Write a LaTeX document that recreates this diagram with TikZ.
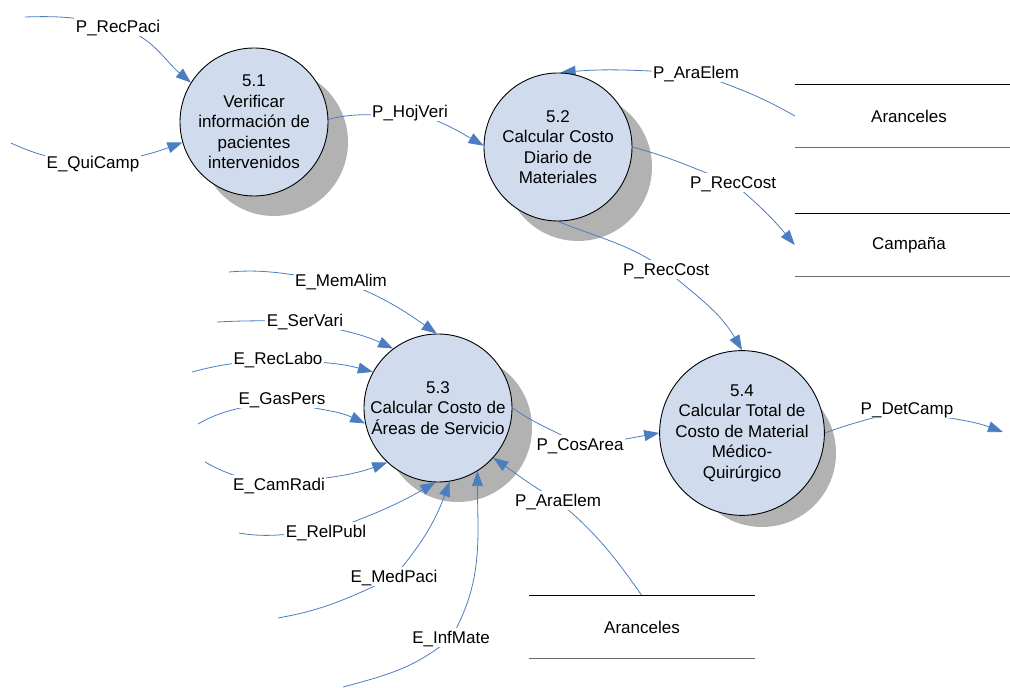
\documentclass[tikz,border=0pt]{standalone}
\usepackage{fontspec}
\setmainfont{Liberation Sans}
\usetikzlibrary{arrows.meta}
\definecolor{flowblue}{RGB}{74,126,193}
\definecolor{procfill}{RGB}{208,220,238}
\definecolor{shadowgray}{RGB}{178,178,178}
\definecolor{storegray}{RGB}{105,105,105}
\pgfdeclarelayer{shadowlayer}
\pgfdeclarelayer{edgelayer}
\pgfsetlayers{shadowlayer,edgelayer,main}
\begin{document}
\begin{tikzpicture}[x=1pt,y=1pt,
  proc/.style={circle,draw=black,line width=0.9pt,fill=procfill,minimum size=148pt,inner sep=0pt,align=center,font=\fontsize{17}{20.5}\selectfont},
  lab/.style={fill=white,inner sep=1.5pt,text height=14pt,text depth=2pt,font=\fontsize{17}{20.5}\selectfont},
  flow/.style={color=flowblue,line width=0.8pt,-{Triangle[length=15pt,width=11pt]}},
  store/.style={minimum width=228pt,minimum height=62pt,inner sep=0pt,font=\fontsize{17}{20.5}\selectfont},
  storetop/.style={draw=black,line width=0.9pt},
  storebot/.style={draw=storegray,line width=0.9pt}]
\useasboundingbox (0,0) rectangle (1010,688);

% processes
\node[proc] (c51) at (254,566) {5.1\\Verificar\\información de\\pacientes\\intervenidos};
\node[proc] (c52) at (558,541) {5.2\\Calcular Costo\\Diario de\\Materiales};
\node[proc] (c53) at (438,280) {5.3\\Calcular Costo de\\Áreas de Servicio};
\node[proc] (c54) at (742,255) {5.4\\Calcular Total de\\Costo de Material\\Médico-\\Quirúrgico};

% data stores
\node[store] (st1) at (909,572) {Aranceles};
\node[store] (st2) at (909,443) {Campaña};
\node[store,minimum width=225pt] (st3) at (642,61) {Aranceles};
\foreach \s in {st1,st2,st3}{
  \draw[storetop] (\s.north west) -- (\s.north east);
  \draw[storebot] (\s.south west) -- (\s.south east);
}

% free ends
\coordinate (s1) at (25,671);
\coordinate (s2) at (11,545);
\coordinate (s7) at (229,416);
\coordinate (s8) at (217,366);
\coordinate (s9) at (192,316);
\coordinate (s10) at (198,264);
\coordinate (s11) at (205,226);
\coordinate (s12) at (239,155);
\coordinate (s13) at (278,70);
\coordinate (s14) at (343,1);
\coordinate (e17) at (1003,256);

% labels
\node[lab] (l1) at (118,661) {P\_RecPaci};
\node[lab] (l2) at (93,525) {E\_QuiCamp};
\node[lab] (l3) at (410,576) {P\_HojVeri};
\node[lab] (l4) at (696,615) {P\_AraElem};
\node[lab] (l5) at (733,505) {P\_RecCost};
\node[lab] (l6) at (666,418) {P\_RecCost};
\node[lab] (l7) at (341,407) {E\_MemAlim};
\node[lab] (l8) at (305,367) {E\_SerVari};
\node[lab] (l9) at (278,329) {E\_RecLabo};
\node[lab] (l10) at (282,289) {E\_GasPers};
\node[lab] (l11) at (279,203) {E\_CamRadi};
\node[lab] (l12) at (326,156) {E\_RelPubl};
\node[lab] (l13) at (394,111) {E\_MedPaci};
\node[lab] (l14) at (451,50) {E\_InfMate};
\node[lab] (l15) at (558,187) {P\_AraElem};
\node[lab] (l16) at (580,243) {P\_CosArea};
\node[lab] (l17) at (907,279) {P\_DetCamp};

% shadows
\begin{pgfonlayer}{shadowlayer}
\foreach \c in {c51,c52,c53,c54}
  \fill[shadowgray] ([shift={(20,-20)}]\c.center) circle[radius=74];
\end{pgfonlayer}

% flows
\begin{pgfonlayer}{edgelayer}
\draw[flow] (s1) to[out=2,in=165] (l1.center) to[out=-15,in=140] (c51.148);
\draw[flow] (s2) to[out=-25,in=175] (l2.center) to[out=5,in=200] (c51.196);
\draw[flow] (c51.2) to[out=15,in=190] (l3.center) to[out=-15,in=150] (c52.179);
\draw[flow] (st1.west) to[out=150,in=-20] (l4.center) to[out=178,in=5] (c52.88);
\draw[flow] (c52.0) to[out=-15,in=160] (l5.center) to[out=-40,in=130] (st2.west);
\draw[flow] (c52.270) to[out=-22,in=145] (l6.center) to[out=-40,in=120] (c54.90);
\draw[flow] (s7) to[out=5,in=175] (l7.center) to[out=-20,in=145] (c53.91);
\draw[flow] (s8) to[out=3,in=180] (l8.center) to[out=-15,in=155] (c53.127);
\draw[flow] (s9) to[out=15,in=185] (l9.center) to[out=-5,in=165] (c53.151);
\draw[flow] (s10) to[out=30,in=195] (l10.center) to[out=-20,in=155] (c53.192);
\draw[flow] (s11) to[out=-30,in=170] (l11.center) to[out=10,in=200] (c53.227);
\draw[flow] (s12) to[out=-10,in=180] (l12.center) to[out=20,in=210] (c53.268);
\draw[flow] (s13) to[out=10,in=205] (l13.center) to[out=50,in=-110] (c53.279);
\draw[flow] (s14) to[out=15,in=220] (l14.center) to[out=60,in=-90] (c53.302);
\draw[flow] (st3.north) to[out=125,in=-40] (l15.center) to[out=150,in=-35] (c53.318);
\draw[flow] (c53.0) to[out=-35,in=150] (l16.center) to[out=5,in=190] (c54.180);
\draw[flow] (c54.0) to[out=20,in=195] (l17.center) to[out=-15,in=160] (e17);
\end{pgfonlayer}
\end{tikzpicture}
\end{document}
